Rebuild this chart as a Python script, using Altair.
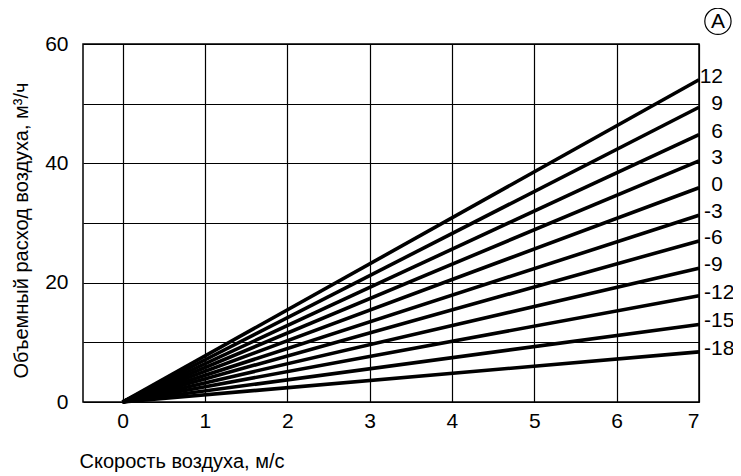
import altair as alt
import pandas as pd

# Line labels (temperature, °C) and volume flow at 7 m/s
temps = [12, 9, 6, 3, 0, -3, -6, -9, -12, -15, -18]
flow_at_7 = [54.0, 49.4, 44.8, 40.4, 35.9, 31.3, 27.0, 22.4, 17.8, 13.0, 8.4]
speed_start = 0
speed_end = 7
x_ticks = [0, 1, 2, 3, 4, 5, 6, 7]
y_grid = [0, 10, 20, 30, 40, 50, 60]

rows = []
for t, v in zip(temps, flow_at_7):
    rows.append({"temp": t, "speed": speed_start, "flow": 0.0})
    rows.append({"temp": t, "speed": speed_end, "flow": v})
df = pd.DataFrame(rows)

ends = pd.DataFrame({
    "temp": temps,
    "speed": [speed_end] * len(temps),
    "flow": flow_at_7,
    "label": [str(t) for t in temps],
})

marker = pd.DataFrame({"speed": [7.23], "flow": [63.8], "label": ["A"]})

FONT = "Liberation Sans"

xscale = alt.Scale(domain=[-0.48, 7], nice=False, zero=False)
yscale = alt.Scale(domain=[0, 60], nice=False)

x_enc = alt.X(
    "speed:Q",
    scale=xscale,
    axis=alt.Axis(
        values=x_ticks,
        title="Скорость воздуха, м/с",
        titleAnchor="start",
        titleAlign="left",
        titleX=-4,
        titleY=65,
        titleBaseline="alphabetic",
        labelPadding=8,
        format="d",
    ),
)
y_enc = alt.Y(
    "flow:Q",
    scale=yscale,
    axis=alt.Axis(
        values=y_grid,
        labelExpr="datum.value % 20 == 0 ? datum.label : ''",
        title="Объемный расход воздуха, м³/ч",
        titleAngle=-90,
        titleX=-56,
        titleY=186,
        titleAlign="center",
        titleBaseline="alphabetic",
        labelPadding=15,
    ),
)

lines = alt.Chart(df).mark_line(color="black", strokeWidth=3.6).encode(
    x=x_enc, y=y_enc, detail="temp:N"
)

pos_labels = alt.Chart(ends).transform_filter("datum.temp >= 0").mark_text(
    align="right", baseline="middle", dx=24, dy=-3, fontSize=21, font=FONT, color="black"
).encode(x="speed:Q", y="flow:Q", text="label:N")

neg_labels = alt.Chart(ends).transform_filter("datum.temp < 0").mark_text(
    align="left", baseline="middle", dx=5, dy=-3, fontSize=21, font=FONT, color="black"
).encode(x="speed:Q", y="flow:Q", text="label:N")

circ = alt.Chart(marker).mark_point(
    shape="circle", size=690, filled=False, color="black", strokeWidth=1.2, opacity=1
).encode(x="speed:Q", y="flow:Q")

circ_text = alt.Chart(marker).mark_text(
    fontSize=21, font=FONT, color="black", baseline="middle", align="center", dy=1
).encode(x="speed:Q", y="flow:Q", text="label:N")

chart = alt.layer(lines, pos_labels, neg_labels, circ, circ_text).properties(
    width=616,
    height=358,
    autosize=alt.AutoSizeParams(type="none"),
    padding={"left": 75, "top": 36, "right": 34, "bottom": 74},
    background="white",
).configure_view(
    stroke="black", strokeWidth=1.5
).configure_axis(
    grid=True,
    gridColor="black",
    gridOpacity=1,
    gridWidth=1.2,
    domain=False,
    ticks=False,
    labelFont=FONT,
    labelFontSize=21,
    labelColor="black",
    titleFont=FONT,
    titleFontSize=20,
    titleFontWeight="normal",
    titleColor="black",
)

chart.save("out.html", embed_options={"renderer": "svg", "actions": False})
